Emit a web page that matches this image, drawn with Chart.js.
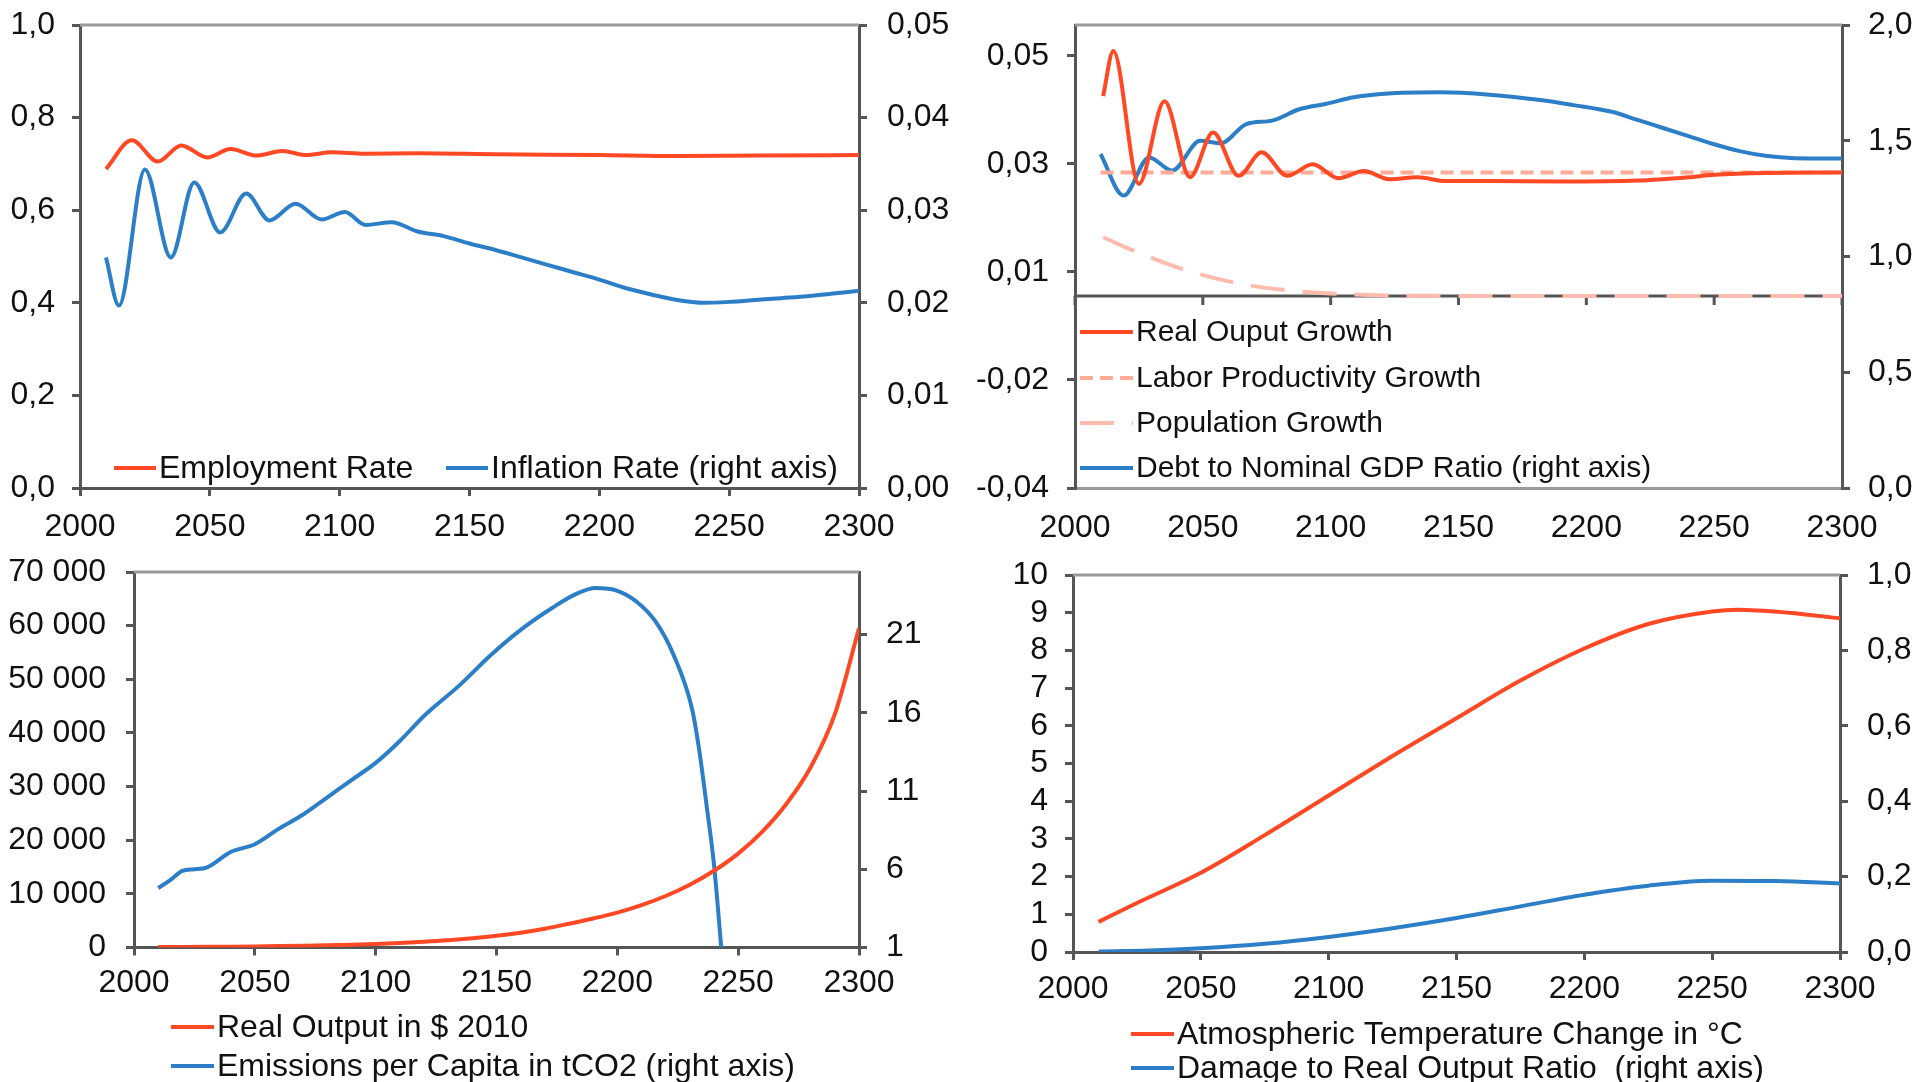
<!DOCTYPE html>
<html>
<head>
<meta charset="utf-8">
<script src="https://cdn.jsdelivr.net/npm/chart.js@4.4.1/dist/chart.umd.min.js"></script>
<style>
  html, body { margin: 0; padding: 0; background: #fff; }
  body { width: 1917px; height: 1082px; position: relative; overflow: hidden; }
  canvas { position: absolute; }
</style>
</head>
<body>
<canvas id="employment" width="958" height="541" style="left:0;top:0"></canvas>
<canvas id="growth" width="959" height="541" style="left:958px;top:0"></canvas>
<canvas id="output" width="958" height="541" style="left:0;top:541px"></canvas>
<canvas id="climate" width="959" height="541" style="left:958px;top:541px"></canvas>
<script>
// x axis (shared)
const yearTicks = [2000, 2050, 2100, 2150, 2200, 2250, 2300];
const yearLabels = ['2000', '2050', '2100', '2150', '2200', '2250', '2300'];

// top left: employment + inflation
const empYears = [2010, 2020, 2030, 2039, 2049, 2058, 2068, 2078, 2087, 2097, 2110, 2130, 2160, 2200, 2230, 2260, 2300];
const empRate = [0.689, 0.751, 0.705, 0.740, 0.714, 0.732, 0.718, 0.728, 0.719, 0.725, 0.722, 0.723, 0.721, 0.719, 0.717, 0.718, 0.719];
const inflYears = [2010, 2015, 2025, 2035, 2044, 2054, 2064, 2073, 2083, 2093, 2102, 2110, 2120, 2130, 2140, 2150, 2160, 2170, 2180, 2190, 2200, 2210, 2220, 2230, 2240, 2250, 2260, 2270, 2280, 2290, 2300];
const inflRate = [0.0249, 0.0197, 0.0344, 0.0249, 0.0330, 0.0276, 0.0318, 0.0289, 0.0307, 0.0290, 0.0298, 0.0284, 0.0287, 0.0277, 0.0272, 0.0264, 0.0257, 0.0249, 0.0241, 0.0233, 0.0225, 0.0216, 0.0209, 0.0203, 0.0200, 0.0201, 0.0203, 0.0205, 0.0207, 0.0210, 0.0213];
const empTicks = [0, 0.2, 0.4, 0.6, 0.8, 1.0];
const empTickLabels = ['0,0', '0,2', '0,4', '0,6', '0,8', '1,0'];
const inflTicks = [0, 0.01, 0.02, 0.03, 0.04, 0.05];
const inflTickLabels = ['0,00', '0,01', '0,02', '0,03', '0,04', '0,05'];

// top right: growth rates + debt ratio
const growthYears = [2011, 2015, 2025, 2035, 2045, 2054, 2064, 2073, 2083, 2093, 2103, 2113, 2123, 2134, 2145, 2162, 2190, 2220, 2240, 2250, 2270, 2300];
const outputGrowth = [0.0416, 0.0510, 0.0233, 0.0405, 0.0247, 0.0340, 0.0250, 0.0299, 0.0250, 0.0274, 0.0245, 0.0260, 0.0243, 0.0247, 0.0239, 0.0239, 0.0238, 0.0240, 0.0247, 0.0252, 0.0256, 0.0257];
const laborYears = [2010, 2100, 2200, 2300];
const laborGrowth = [0.0257, 0.0257, 0.0257, 0.0257];
const popYears = [2011, 2023, 2042, 2062, 2084, 2104, 2123, 2150, 2200, 2250, 2300];
const popGrowth = [0.0122, 0.0094, 0.0056, 0.0028, 0.0011, 0.0004, 0.0001, 0.0, 0.0, 0.0, 0.0];
const debtYears = [2010, 2019, 2029, 2038, 2049, 2057, 2067, 2077, 2088, 2098, 2109, 2124, 2143, 2162, 2182, 2195, 2210, 2220, 2230, 2240, 2250, 2260, 2270, 2280, 2290, 2300];
const debtRatio = [1.443, 1.263, 1.428, 1.371, 1.500, 1.489, 1.572, 1.587, 1.637, 1.659, 1.688, 1.705, 1.709, 1.699, 1.676, 1.654, 1.625, 1.59, 1.555, 1.52, 1.485, 1.455, 1.435, 1.425, 1.423, 1.423];
const growthTicks = [-0.04, -0.0175, 0.005, 0.0275, 0.05];
const growthTickLabels = ['-0,04', '-0,02', '0,01', '0,03', '0,05'];
const debtTicks = [0, 0.5, 1.0, 1.5, 2.0];
const debtTickLabels = ['0,0', '0,5', '1,0', '1,5', '2,0'];

// bottom left: real output + emissions
const outputYears = [2010, 2020, 2030, 2040, 2050, 2060, 2070, 2080, 2090, 2100, 2110, 2120, 2130, 2140, 2150, 2160, 2170, 2180, 2190, 2200, 2210, 2220, 2230, 2240, 2250, 2260, 2270, 2280, 2290, 2300];
const realOutput = [70, 95, 125, 160, 205, 260, 330, 420, 530, 670, 850, 1070, 1350, 1720, 2180, 2760, 3500, 4420, 5400, 6500, 7900, 9600, 11700, 14300, 17500, 21600, 26800, 33600, 43500, 59500];
const emisYears = [2010, 2015, 2020, 2025, 2030, 2040, 2050, 2060, 2070, 2080, 2090, 2100, 2110, 2120, 2135, 2147, 2160, 2173, 2183, 2191, 2200, 2208, 2216, 2223, 2231, 2234, 2237, 2240, 2243];
const emissions = [4.8, 5.3, 5.9, 6.0, 6.1, 7.1, 7.6, 8.6, 9.5, 10.6, 11.7, 12.8, 14.2, 15.8, 17.8, 19.6, 21.3, 22.7, 23.6, 23.97, 23.8, 23.1, 21.8, 19.8, 16.2, 13.5, 10.0, 6.3, 1.0];
const outputTicks = [0, 10000, 20000, 30000, 40000, 50000, 60000, 70000];
const outputTickLabels = ['0', '10 000', '20 000', '30 000', '40 000', '50 000', '60 000', '70 000'];
const emisTicks = [1, 6, 11, 16, 21];
const emisTickLabels = ['1', '6', '11', '16', '21'];

// bottom right: temperature + damage
const tempYears = [2010, 2025, 2050, 2075, 2100, 2125, 2150, 2175, 2200, 2225, 2250, 2260, 2280, 2300];
const tempChange = [0.8, 1.3, 2.1, 3.1, 4.15, 5.2, 6.2, 7.2, 8.05, 8.7, 9.03, 9.08, 9.0, 8.85];
const damageYears = [2010, 2030, 2050, 2075, 2100, 2125, 2150, 2175, 2200, 2225, 2250, 2275, 2300];
const damageRatio = [0.0015, 0.004, 0.010, 0.022, 0.040, 0.063, 0.090, 0.121, 0.152, 0.176, 0.189, 0.188, 0.182];
const tempTicks = [0, 1, 2, 3, 4, 5, 6, 7, 8, 9, 10];
const tempTickLabels = ['0', '1', '2', '3', '4', '5', '6', '7', '8', '9', '10'];
const damageTicks = [0, 0.2, 0.4, 0.6, 0.8, 1.0];
const damageTickLabels = ['0,0', '0,2', '0,4', '0,6', '0,8', '1,0'];

const RED = '#ff4824';
const BLUE = '#2c7fc6';
const LABOR = '#ffab98';
const POP = '#ffbcae';
const axisColor = '#555';
const frameColor = '#9a9a9a';
const fontFamily = "'Liberation Sans', Arial, sans-serif";
const fontSize = 32;

Chart.defaults.font.family = fontFamily;
Chart.defaults.font.size = fontSize;
Chart.defaults.color = '#111';

const pts = (xs, ys) => xs.map((x, i) => ({ x: x, y: ys[i] }));

function line(label, xs, ys, color, axis, dash) {
  return {
    label: label,
    data: pts(xs, ys),
    borderColor: color,
    backgroundColor: color,
    borderWidth: 4,
    borderDash: dash || [],
    pointRadius: 0,
    cubicInterpolationMode: 'monotone',
    yAxisID: axis
  };
}

function valueAxis(position, min, max, tickValues, tickLabels, width, padding) {
  return {
    type: 'linear',
    position: position,
    min: min,
    max: max,
    afterFit: s => { s.width = width; s.paddingTop = 0; s.paddingBottom = 0; },
    afterBuildTicks: s => { s.ticks = tickValues.map(v => ({ value: v })); },
    ticks: { padding: padding, autoSkip: false, callback: (v, i) => tickLabels[i] },
    grid: { drawOnChartArea: false, tickLength: 8, color: axisColor, lineWidth: 3, tickWidth: 3 },
    border: { color: axisColor, width: 3 }
  };
}

function yearAxis(height, padding, drawTicks, borderColor) {
  return {
    type: 'linear',
    min: 2000,
    max: 2300,
    afterFit: s => { s.height = height; s.paddingLeft = 0; s.paddingRight = 0; },
    afterBuildTicks: s => { s.ticks = yearTicks.map(v => ({ value: v })); },
    ticks: { padding: padding, maxRotation: 0, autoSkip: false, callback: (v, i) => yearLabels[i] },
    grid: { drawOnChartArea: false, drawTicks: drawTicks, tickLength: 8, color: axisColor, lineWidth: 3, tickWidth: 3 },
    border: { color: borderColor, width: 3 }
  };
}

// light top border, plus the zero line of the growth panel
const framePlugin = {
  id: 'frame',
  beforeDatasetsDraw(chart, args, opts) {
    const ctx = chart.ctx;
    const a = chart.chartArea;
    ctx.save();
    ctx.lineWidth = 3;
    ctx.strokeStyle = frameColor;
    ctx.beginPath();
    ctx.moveTo(a.left, a.top);
    ctx.lineTo(a.right, a.top);
    ctx.stroke();
    if (opts.zeroLine) {
      const y = chart.scales.y.getPixelForValue(0);
      ctx.strokeStyle = axisColor;
      ctx.beginPath();
      ctx.moveTo(a.left, y);
      ctx.lineTo(a.right, y);
      chart.scales.x.ticks.forEach(t => {
        const x = chart.scales.x.getPixelForValue(t.value);
        ctx.moveTo(x, y);
        ctx.lineTo(x, y + 9);
      });
      ctx.stroke();
    }
    ctx.restore();
  }
};

// legend drawn at fixed spots (inside the plot for the top panels)
const legendPlugin = {
  id: 'boxLegend',
  afterDraw(chart, args, opts) {
    const ctx = chart.ctx;
    ctx.save();
    ctx.font = (opts.size || fontSize) + 'px ' + fontFamily;
    ctx.textBaseline = 'middle';
    ctx.fillStyle = '#111';
    chart.data.datasets.forEach((ds, i) => {
      const spot = opts.spots[i];
      ctx.strokeStyle = ds.borderColor;
      ctx.lineWidth = 4;
      ctx.setLineDash(ds.borderDash || []);
      ctx.beginPath();
      ctx.moveTo(spot[0], spot[1]);
      ctx.lineTo(spot[0] + opts.sample, spot[1]);
      ctx.stroke();
      ctx.setLineDash([]);
      ctx.fillText(ds.label, spot[0] + opts.sample + 3, spot[1] + 1);
    });
    ctx.restore();
  }
};

function makeChart(id, datasets, scales, top, legend, zeroLine) {
  return new Chart(document.getElementById(id), {
    type: 'line',
    data: { datasets: datasets },
    options: {
      responsive: false,
      animation: false,
      devicePixelRatio: 1,
      layout: { padding: { top: top, left: 0, right: 0, bottom: 0 } },
      scales: scales,
      plugins: {
        legend: { display: false },
        tooltip: { enabled: false },
        frame: { zeroLine: zeroLine },
        boxLegend: legend
      }
    },
    plugins: [framePlugin, legendPlugin]
  });
}

makeChart('employment', [
  line('Employment Rate', empYears, empRate, RED, 'y'),
  line('Inflation Rate (right axis)', inflYears, inflRate, BLUE, 'y1')
], {
  x: yearAxis(53, 12, true, axisColor),
  y: valueAxis('left', 0, 1, empTicks, empTickLabels, 80, 17),
  y1: valueAxis('right', 0, 0.05, inflTicks, inflTickLabels, 99, 20)
}, 25, { sample: 42, spots: [[114, 468], [446, 468]] }, false);

makeChart('growth', [
  line('Real Ouput Growth', growthYears, outputGrowth, RED, 'y'),
  line('Labor Productivity Growth', laborYears, laborGrowth, LABOR, 'y', [13, 7]),
  line('Population Growth', popYears, popGrowth, POP, 'y', [34, 18]),
  line('Debt to Nominal GDP Ratio (right axis)', debtYears, debtRatio, BLUE, 'y1')
], {
  x: yearAxis(53, 21, false, frameColor),
  y: valueAxis('left', -0.04, 0.0564, growthTicks, growthTickLabels, 117, 18),
  y1: valueAxis('right', 0, 2, debtTicks, debtTickLabels, 75, 18)
}, 25, { sample: 53, size: 30, spots: [[122, 332], [122, 378], [122, 423], [122, 468]] }, true);

makeChart('output', [
  line('Real Output in $ 2010', outputYears, realOutput, RED, 'y'),
  line('Emissions per Capita in tCO2 (right axis)', emisYears, emissions, BLUE, 'y1')
], {
  x: yearAxis(134.5, 8, true, axisColor),
  y: valueAxis('left', 0, 70000, outputTicks, outputTickLabels, 134, 20),
  y1: valueAxis('right', 1, 25, emisTicks, emisTickLabels, 99, 19)
}, 31, { sample: 43, spots: [[171, 486], [171, 525]] }, false);

makeChart('climate', [
  line('Atmospheric Temperature Change in °C', tempYears, tempChange, RED, 'y'),
  line('Damage to Real Output Ratio  (right axis)', damageYears, damageRatio, BLUE, 'y1')
], {
  x: yearAxis(130, 10, true, axisColor),
  y: valueAxis('left', 0, 10, tempTicks, tempTickLabels, 115, 17),
  y1: valueAxis('right', 0, 1, damageTicks, damageTickLabels, 77, 19)
}, 34, { sample: 43, spots: [[173, 493], [173, 527]] }, false);
</script>
</body>
</html>
